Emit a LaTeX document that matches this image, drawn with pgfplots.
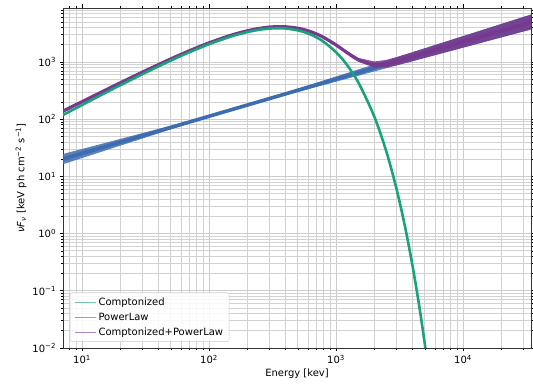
\documentclass[border=0pt]{standalone}
\usepackage{pgfplots}
\pgfplotsset{compat=1.18}
\usepackage{fontspec}
\setmainfont{DejaVu Sans}
\definecolor{cgreen}{RGB}{25,163,122}
\definecolor{cblue}{RGB}{61,108,176}
\definecolor{cpurple}{RGB}{120,56,142}
\begin{document}
\begin{tikzpicture}
\begin{axis}[
  name=ax,
  scale only axis,
  width=468pt, height=340pt,
  xmode=log, ymode=log,
  xmin=7.08, xmax=34300,
  ymin=0.01, ymax=8800,
  font=\fontsize{10}{12}\selectfont,
  xtick={10,100,1000,10000},
  xticklabels={10\textsuperscript{1},10\textsuperscript{2},10\textsuperscript{3},10\textsuperscript{4}},
  ytick={0.01,0.1,1,10,100,1000},
  yticklabels={10\textsuperscript{−2},10\textsuperscript{−1},10\textsuperscript{0},10\textsuperscript{1},10\textsuperscript{2},10\textsuperscript{3}},
  minor xtick={8,9,20,30,40,50,60,70,80,90,200,300,400,500,600,700,800,900,2000,3000,4000,5000,6000,7000,8000,9000,20000,30000},
  minor ytick={0.02,0.03,0.04,0.05,0.06,0.07,0.08,0.09,0.2,0.3,0.4,0.5,0.6,0.7,0.8,0.9,2,3,4,5,6,7,8,9,20,30,40,50,60,70,80,90,200,300,400,500,600,700,800,900,2000,3000,4000,5000,6000,7000,8000},
  grid=both,
  major grid style={gray!40, line width=0.9pt},
  minor grid style={gray!35, line width=0.7pt},
  tick align=outside,
  major tick length=3.5pt, minor tick length=2pt,
  tick style={black, line width=0.6pt},
  axis line style={black!80, line width=0.8pt},
  xlabel={Energy [kev]},
  ylabel={{\itshape ν}{\itshape F}\textsubscript{\itshape ν} [keV ph cm\textsuperscript{−2} s\textsuperscript{−1}]},
  xlabel style={yshift=2pt},
  ylabel style={yshift=-1pt},
  legend cell align=left,
  legend style={at={(0.015,0.018)}, anchor=south west, font=\fontsize{10}{12}\selectfont,
    draw=gray!40, fill=white, fill opacity=0.85, text opacity=1, rounded corners=2pt,
    row sep=2pt, inner xsep=4pt, inner ysep=3pt},
  legend image code/.code={\draw[#1] (0cm,0cm) -- (0.75cm,0cm);},
]
% PowerLaw band and line
\addplot[forget plot, fill=cblue, fill opacity=0.85, draw=none] coordinates {
 (7,16.2) (150,146.6) (35000,6850) (35000,3756) (150,146.6) (7,24.5)} -- cycle;
\addplot[forget plot, cblue, line width=3.6pt] coordinates {(7,20.0) (35000,5070)};
% Comptonized+PowerLaw band and line
\addplot[forget plot, fill=cpurple, fill opacity=0.85, draw=none] coordinates {
 (1000,2043.5) (1500,1180) (2000,1022) (2500,1091) (3000,1218) (4000,1484) (10000,2831) (35000,6850)
 (35000,3756) (10000,1784) (4000,1034) (3000,877) (2500,808) (2000,796) (1500,1014) (1000,1938)} -- cycle;
\addplot[forget plot, cpurple, line width=3.2pt, smooth] coordinates {
 (7,137) (10,202.6) (15,315.9) (20,432.7) (30,667.8) (50,1133) (70,1571) (100,2161) (150,2952)
 (200,3512) (250,3874) (300,4078) (350,4154) (400,4134) (500,3900) (600,3523) (700,3101)
 (800,2687) (1000,1988) (1200,1499) (1500,1092) (2000,901) (2500,939) (3000,1033) (3500,1137)
 (4000,1239) (5000,1432) (10000,2248) (35000,5070)};
% Comptonized
\addplot[forget plot, cgreen, line width=2.6pt, smooth] coordinates {
 (7,117.0) (10,177.4) (15,283.1) (20,393.1) (30,616.3) (50,1061) (70,1482) (100,2048) (150,2805)
 (200,3335) (250,3670) (300,3848) (350,3900) (400,3857) (500,3579) (600,3162) (700,2702)
 (800,2252) (1000,1485) (1200,932.5) (1500,436.8) (2000,111.7) (2500,26.4) (3000,5.94)
 (3500,1.295) (4000,0.275) (4500,0.0575) (5000,0.0118) (5500,0.0024)};
\addlegendimage{cgreen, opacity=0.6, line width=1pt}
\addlegendentry{Comptonized}
\addlegendimage{cblue, opacity=0.6, line width=1pt}
\addlegendentry{PowerLaw}
\addlegendimage{cpurple, opacity=0.6, line width=1pt}
\addlegendentry{Comptonized+PowerLaw}
\end{axis}
\pgfresetboundingbox
\path ([xshift=-63pt,yshift=-39pt]ax.south west) rectangle ([xshift=2pt,yshift=8pt]ax.north east);
\end{tikzpicture}
\end{document}
